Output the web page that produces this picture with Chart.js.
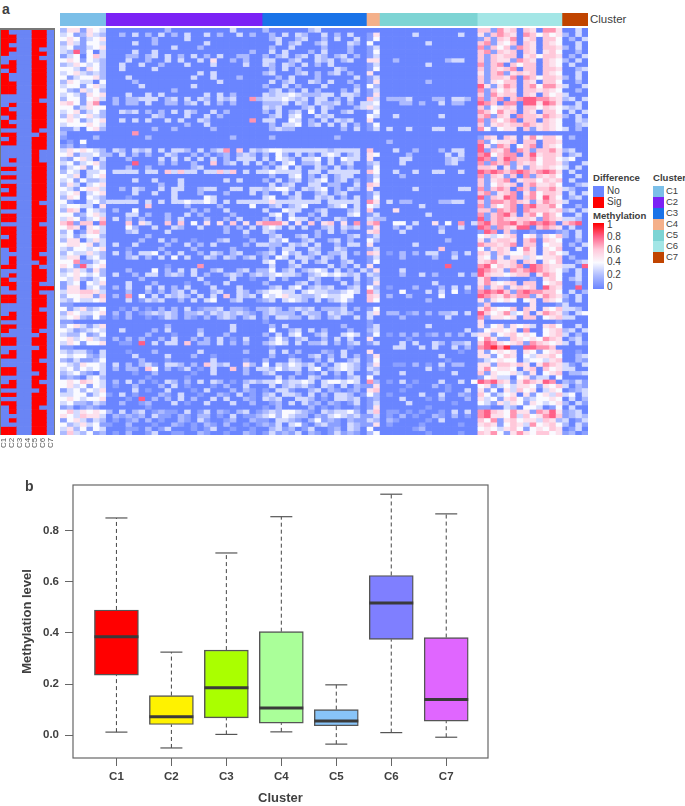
<!DOCTYPE html>
<html><head><meta charset="utf-8">
<script src="https://cdn.jsdelivr.net/npm/chart.js@4"></script>
<style>
html,body{margin:0;padding:0;background:#fff;width:685px;height:806px;overflow:hidden}
body{position:relative;font-family:"Liberation Sans",Arial,sans-serif;color:#404040}
canvas{position:absolute;display:block}
.t{position:absolute;white-space:nowrap;line-height:1}
.s{position:absolute;width:11px;height:10.5px}
</style></head><body>
<div style="position:absolute;left:0;top:28px;width:55px;height:407px;border:1px solid #777;border-top-width:2px;box-sizing:border-box"></div>
<canvas id="sig" width="53" height="405" style="left:1px;top:30px;filter:blur(.35px)"></canvas>
<canvas id="top" width="528" height="13" style="left:60px;top:13px"></canvas>
<canvas id="heat" width="528" height="407" style="left:60px;top:28px;filter:blur(.45px)"></canvas>
<canvas id="box" width="513" height="346" style="left:0;top:460px"></canvas>
<div id="overlay"></div>
<script>
// Cluster names and sizes (columns per cluster in the heatmap)
const categories = ["C1","C2","C3","C4","C5","C6","C7"];
const clusterSizes = [7,24,16,2,15,13,4];
const clusterColors = ["#7bbfe8","#7b22f5","#1a73e8","#f4b08a","#7dd4d4","#a3e6e6","#c04400"];
const legendTicks = ["1","0.8","0.6","0.4","0.2","0"];

// Left "Difference" strip, read row by row (1 = Sig, 0 = No)
const sigC1 = "1100000101"+"0100110010"+"0110110100"+"0110011001"+"0000110110"+"1101101010"+"1010000010"+"1011011000"+"1111101001"+"11111";
const sigC2 = "1101011101"+"0110110011"+"0110010110"+"0110110101"+"1101111110"+"1101101110"+"1010100011"+"1010110100"+"1110011100"+"10110";
const sigC3 = "0".repeat(95);
const sigC4 = "0".repeat(95);
const sigC5 = "1111111111"+"0111011111"+"0110111111"+"1111111111"+"0111111111"+"1111111111"+"1111111111"+"0111111111"+"1111111111"+"11111";
const sigC6 = "1111110111"+"1101111011"+"1111011110"+"1110101110"+"1101111110"+"1111011111"+"1111000111"+"1011111101"+"1111111101"+"01111";
const sigC7 = "0".repeat(34)+"1"+"0".repeat(60);

// Heatmap cells: one digit per cell = methylation x 10,
// groups follow the clusters C1..C7. Row and cluster structure is read, single cells are approximate.
const heatRows = [
"2632412 010200130011002100100210 1312130210131210 24 000000010000100 6574157546645 1201",
"3524143 000110201300010130010010 0231201300120320 40 000001200000000 4543564145465 0130",
"4235341 100200010021010210200101 2130341023110321 15 010000100000100 5651465374564 2031",
"1453132 010120201002103100120021 1033210241210211 32 021000010300000 6471564553652 3013",
"5436553 021212031102102201030112 3424322021343231 13 010201002102010 7855473645786 1232",
"4635454 203023012110301302102301 2324432103233420 36 011010100103030 7865475517685 1230",
"1201210 000000100000000000000000 1020000201010010 15 000000010000000 1100320443014 0300",
"3422132 002001200030100300030020 0120303120210130 13 000030000001000 4315354154345 2031",
"4543445 000108020203020030300210 3230033201033230 12 000300010200020 5341564234454 0302",
"3344134 103010002103001002103010 2303320302033201 42 010000300300210 6413450514536 3403",
"1342435 000030100300010300020210 1033100230210120 56 000100000010030 5140536450354 0123",
"4534143 010020002030100010200300 0302323103203021 15 000010002010000 4513435541546 3021",
"4546543 020302010320203032010232 3342334303443430 72 010301000300304 8786515765870 2131",
"1210342 000000100000100000000000 0030200320010230 40 000000000000000 1453304513304 0000",
"2342103 000010020000010030000200 2300020103020300 13 000300000003000 6154453150456 0223",
"3424343 020220640201301030060203 3242330340234320 32 000000030100000 5745540560645 3300",
"4325443 030202310332020632300520 4032432302034320 25 001102010302200 5516656505765 3103",
"2131124 000002000100000030000100 2000320020300230 14 000000000010000 1345440344356 0021",
"4344213 000030000300020010000000 0200100230203020 15 000000000300000 5514650435564 0023",
"3233103 000100020000003000000200 0303020002103000 50 000000000000100 5145450541456 0010",
"1100000 000000000000000000000000 0100000000000100 00 003300303003020 7897900887760 0000",
"3541445 001108030330602203020200 2343030223020230 13 000303003202230 6875456176545 3031",
"4534532 020202002030020203010300 0242023002030300 50 000010000000000 4751165454765 0230",
"3224124 000000200010003000200000 2030340023003430 14 010202012020203 5514564540456 3020",
"4312343 003000020300002000030000 0400230302000200 23 000000000000030 1455450700456 2303",
"2453135 000000000200000000030000 0203000000002000 13 000000030000000 5145154530564 0030",
"1100000 000000000000000000000000 1000000000000000 10 000000000000000 5000000000001 0000",
"3452141 010200101320210202320230 2033220320230030 30 000200000030000 7155450660456 3300",
"2543345 020201232320223132323210 2322203220323200 35 022012020223030 8645734605765 2034",
"4135234 001020102020301223022102 2320232302223020 14 000000000000000 5754460650546 3320",
"1100000 000000000000000000000000 0000000000002000 00 000000000000000 1600000050001 3000",
"3243345 000301323002030340023001 2303432030234200 64 000000020000000 5154540450654 1030",
"2445516 020704030323203030603230 4345332234334400 65 020020000400000 8765767715765 2030",
"3556653 000200202023030023003202 3443303433223430 73 000400030304010 7878617877664 0302",
"1550342 020300303020300030003000 0230340232300230 42 010002000203030 6156156560865 0080",
"1340435 000300020000100200300000 2000023020003020 15 000000003000000 5754560660456 0020",
"4352134 000002000000003000030010 0302000320020030 13 000000000000000 5701100010564 0230",
"3454342 030020330232030200232023 2343320234343230 32 000200302000302 8655456605764 0030",
"2353152 000200040203030023002302 2402302343030203 15 000300000000000 8765176787654 2030",
"5418345 000000000100007000000000 0300230000302030 50 000000000080000 7846567087655 3308",
"4471134 000000000000000000000000 3400303023002300 14 000000000000000 5675560650546 0023",
"3550342 000230203040300320320230 2043033203203000 13 000200002003000 5415155354556 0200",
"2433532 030203340203002032023001 2304230230223020 65 010202033002030 6516544650564 3000",
"3244345 000100002000020000020000 0203300320032000 13 000000000600000 4156504750546 0030",
"4554513 030030000200302030000203 3220323030020330 50 000003000000000 7665670660455 0203",
"2550353 000002003020010002300020 0324002300230200 42 000000000020000 5156650670654 0020",
"3413442 000000200000000000000100 0230023020000230 13 000000000000000 4534560451546 2030",
"2401563 000230000300000000200300 3200000020302000 56 000300000300000 1870610010001 2030",
"4650543 000420030032003000202030 3430303002303230 15 002030000200300 8717658806765 0300",
"6716607 000605300606040505060506 7775050605605070 67 004403005040703 7867786787870 6780",
"3541346 030202000203000200203000 2030433020032000 32 200000000000000 8167656651765 3320",
"4412453 000330200200302000020000 0340300203000340 13 000000030000000 7167860674764 0030",
"2650432 020040000000020200300000 3004330023000230 60 005000000000000 6617670766656 2303",
"3443305 000000600000200002000040 0230234000234030 43 000000300000000 7164670786674 0020",
"4100342 333330303033433430303333 3533333330333330 75 030220000223300 6177676515765 3000",
"2540432 000100000030000430000000 3400230032302030 14 000000000000000 8165870674864 0230",
"3450345 000030030030002000200030 2003030023023000 13 000000000000000 6715670574665 0303",
"4314553 002032003033002330033033 2344203234020320 50 000003000000330 7167607616675 3200",
"2530345 000000002003000000000000 0302300330220030 65 000000000000000 6146560675564 0023",
"3414223 000030030003000000303000 2030230234023020 14 000000000000000 6156705664656 0300",
"4350345 000000000000000000000000 0200340203023300 13 000200000000000 7165160716564 0030",
"2430334 033330330636330336360303 3433330330333330 64 003003003300300 8787678767875 0300",
"1345142 000200200000023000000000 2034030032030200 14 000000000000000 6650515165654 3030",
"3413452 000080002020020060230303 0203402230302300 23 000300000023000 7176716564665 2003",
"2145303 000200003030303030203330 3043203340304330 50 000330000023200 8716876674664 3400",
"4513342 203020200320020201202320 2042030203430230 54 000020000030300 7846770685665 0230",
"3545432 032032303033203023706032 3443333333233330 60 003002000203300 8165707616675 2300",
"1201000 000000000000000000000000 0000000000000000 00 000000000000000 8517604670654 0000",
"0104000 000000000000000000000000 0000000000000000 00 020000000000000 7145560660665 0000",
"1000020 000000200000000000020000 0200000000020000 00 000000000000000 1650650574664 0200",
"2000000 000070000000000000000000 0000000000000000 00 000000000000000 0000000000000 0000",
"1130452 000000020020000020000000 0232200000002030 13 030030003300330 7414550615654 3020",
"3444543 000000000000200300000000 0203340230303020 14 000000000000000 6156566765654 0023",
"4541345 003030300303003200000070 3300430203032300 50 000000000000000 7164670660654 0032",
"2534532 000000032000300302000000 0230340032300000 43 003000000300000 6716507665765 2030",
"3451342 003230202030320030200000 2030230403002300 14 000000000000000 7647560650664 0303",
"4413544 000000000000000000000000 3230002303200023 53 000000000000000 6145650664654 3230",
"5641570 020220300220230302020000 2223032032230203 34 000220200302200 8760770885875 0030",
"2441453 020223330230303203230072 3334323033020300 63 022230002203320 7167067887765 2303",
"3431545 000300303000000303020000 3233432223303320 15 000000000000000 6175660650645 3000",
"4215342 000000000020000000000000 0230203020002030 13 000000000000000 7164650665654 0020",
"3441453 000003000000030000000000 2003020003000020 42 000000000000000 8515760674775 3003",
"2543304 000020000000000003000000 0302300320300200 15 000000020000000 6154660650664 0020",
"4134452 000300000000030030002000 0020300020000030 13 000000000000000 6166570764665 2030",
"3453232 000000000000003030000000 2300023020230200 50 000000000000000 5167156560654 0030",
"4431542 003000030000000000000000 0203020000032000 14 000000000000000 6165670660665 0023",
"2354342 003003002000300030000300 3203203020300000 13 000000030000000 7167064660654 0300",
"4541432 000300200303003050020200 3300230032302300 55 002000000023300 6165517650654 2030",
"1340463 000220230302030203002200 2023023032023020 13 000000000000000 6165660564665 0203",
"3281403 000030030000000000000020 0303000203000200 14 000000000000000 6716560650564 0020",
"3411345 000000000030002000000000 0200300002000200 13 000000000000000 7164617650665 2030",
"2531443 000030020000000300000000 0030230023000320 40 000000030000000 6715460650654 0030",
"4541345 000000020000300000000000 0230023002030030 14 000000000000000 1616570560664 0203",
"3412532 002030203020300302003020 0203032003020300 15 000003000000300 5167650764645 2030",
"2551543 000000000200000000030000 2000000230000000 00 000000000000000 6617560650775 0030"
];

// Box plot statistics
const whiskerLow  = [0.012,-0.05,0.003,0.013,-0.035,0.01,-0.008];
const boxQ1       = [0.235,0.042,0.068,0.047,0.037,0.375,0.055];
const boxMedian   = [0.385,0.072,0.186,0.106,0.055,0.517,0.14];
const boxQ3       = [0.49,0.155,0.333,0.405,0.1,0.625,0.382];
const whiskerHigh = [0.85,0.325,0.713,0.855,0.197,0.943,0.866];
const boxColors   = ["#ff0000","#fff200","#aaff00","#aaff99","#88c4f8","#7f7fff","#e066ff"];
const yTickValues = [0,0.2,0.4,0.6,0.8];

Chart.defaults.animation = false;
Chart.defaults.responsive = false;
Chart.defaults.font.family = '"Liberation Sans",Arial,sans-serif';
Chart.defaults.plugins.legend.display = false;
Chart.defaults.plugins.tooltip.enabled = false;
Chart.defaults.events = [];

const STOPS=[[0,[106,133,255]],[0.2,[172,186,255]],[0.4,[250,250,255]],[0.6,[255,200,218]],[0.8,[255,95,135]],[1,[255,0,0]]];
function heatColor(v){
  let i=0; while(i<STOPS.length-2 && v>STOPS[i+1][0]) i++;
  const [p,a]=STOPS[i],[q,b]=STOPS[i+1],t=(v-p)/(q-p);
  return `rgb(${a.map((c,k)=>Math.round(c+(b[k]-c)*t)).join(",")})`;
}
function stackedCells(id,labels,datasets,xMax){
  return new Chart(document.getElementById(id),{type:"bar",data:{labels,datasets},options:{
    indexAxis:"y",maintainAspectRatio:false,layout:{padding:0},
    datasets:{bar:{categoryPercentage:1,barPercentage:1,borderWidth:0}},
    scales:{x:{type:"linear",stacked:true,display:false,min:0,max:xMax,offset:false},
            y:{type:"category",stacked:true,display:false,reverse:true}}
  }});
}

// Difference strip
const sigCols=[sigC1,sigC2,sigC3,sigC4,sigC5,sigC6,sigC7];
const rowLabels=heatRows.map((_,i)=>"r"+(i+1));
stackedCells("sig",rowLabels,sigCols.map((col,c)=>({
  label:categories[c],data:rowLabels.map(()=>1),
  backgroundColor:rowLabels.map((_,r)=>col[r]==="1"?"#ff0000":"#6a85f5")
})),7);

// Cluster bar
stackedCells("top",["Cluster"],categories.map((c,i)=>({
  label:c,data:[clusterSizes[i]],backgroundColor:clusterColors[i]
})),clusterSizes.reduce((a,b)=>a+b,0));

// Heatmap
const parsedRows=heatRows.map(r=>{
  const segs=r.split(" ");
  return clusterSizes.map((n,i)=>(segs[i]||"").padEnd(n,"0").slice(0,n)).join("");
});
const nCols=clusterSizes.reduce((a,b)=>a+b,0);
const heatDatasets=[];
for(let c=0;c<nCols;c++){
  heatDatasets.push({label:"col"+c,data:parsedRows.map(()=>1),
    backgroundColor:parsedRows.map(r=>heatColor(+r[c]/10))});
}
stackedCells("heat",rowLabels,heatDatasets,nCols);

// Box plot
const xs=categories.map((_,i)=>i+1);
const boxDatasets=[];
xs.forEach((x,i)=>{
  [[whiskerLow[i],boxQ1[i]],[boxQ3[i],whiskerHigh[i]]].forEach(p=>{
    boxDatasets.push({type:"scatter",showLine:true,order:3,data:p.map(y=>({x,y})),
      borderColor:"#444",borderWidth:1,borderDash:[4,3],pointRadius:0});
  });
});
boxDatasets.push({type:"bar",order:2,barThickness:44,data:xs.map((x,i)=>({x,y:[boxQ1[i],boxQ3[i]]})),
  backgroundColor:boxColors,borderColor:"#555",borderWidth:1.4,borderSkipped:false});
boxDatasets.push({type:"scatter",order:1,data:xs.flatMap((x,i)=>[{x,y:whiskerLow[i]},{x,y:whiskerHigh[i]}]),
  pointStyle:"line",pointRadius:11,pointBorderColor:"#555",pointBorderWidth:1.2});
boxDatasets.push({type:"scatter",order:0,data:xs.map((x,i)=>({x,y:boxMedian[i]})),
  pointStyle:"line",pointRadius:22,pointBorderColor:"#3a3a3a",pointBorderWidth:3});

const frame={id:"frame",afterDatasetsDraw(ch){const a=ch.chartArea,g=ch.ctx;g.save();g.strokeStyle="#666";g.lineWidth=1.2;
  g.strokeRect(a.left,a.top,a.right-a.left,a.bottom-a.top);g.restore();}};
const tickFont={size:11.5,weight:"bold"};
new Chart(document.getElementById("box"),{type:"bar",data:{datasets:boxDatasets},plugins:[frame],options:{
  maintainAspectRatio:false,layout:{padding:{top:23,right:0,left:0,bottom:0}},
  scales:{
    x:{type:"linear",min:0.21,max:7.76,offset:false,
      afterBuildTicks(a){a.ticks=xs.map(v=>({value:v}));},
      afterFit(a){a.height=48;a.paddingLeft=0;a.paddingRight=0;},
      grid:{offset:false,drawOnChartArea:false,tickLength:8,color:"#666",lineWidth:1},
      border:{display:false},
      ticks:{autoSkip:false,maxRotation:0,padding:4,color:"#404040",font:tickFont,callback:v=>categories[v-1]},
      title:{display:true,text:"Cluster",color:"#404040",font:{size:13,weight:"bold"},padding:{top:1,bottom:0}}},
    y:{type:"linear",min:-0.0893,max:0.979,
      afterBuildTicks(a){a.ticks=yTickValues.map(v=>({value:v}));},
      afterFit(a){a.width=73;a.paddingTop=0;a.paddingBottom=0;},
      grid:{drawOnChartArea:false,tickLength:8,color:"#666",lineWidth:1},
      border:{display:false},
      ticks:{padding:6,color:"#404040",font:tickFont,callback:v=>v.toFixed(1)},
      title:{display:true,text:"Methylation level",color:"#404040",font:{size:13,weight:"bold"},padding:{top:20,bottom:0}}}
  }
}});

// Text and legends
const ov=document.getElementById("overlay");
function txt(s,x,y,size,bold,extra){
  const d=document.createElement("div");d.className="t";d.textContent=s;
  d.style.cssText=`left:${x}px;top:${y-size/2}px;font-size:${size}px;${bold?"font-weight:bold;":""}${extra||""}`;
  ov.appendChild(d);return d;
}
function swatch(c,x,y){const d=document.createElement("div");d.className="s";
  d.style.cssText=`left:${x}px;top:${y}px;background:${c};`;ov.appendChild(d);}
txt("a",2,9,14,true);
txt("b",25,486,14,true);
txt("Cluster",590,19.5,11.5,false);
txt("Difference",593,178,9.6,true);
swatch("#6a85ff",593,186);swatch("#ff0000",593,197);
txt("No",607,191,10,false);txt("Sig",607,202,10,false);
txt("Methylation",593,216,9.6,true);
const bar=document.createElement("div");
bar.style.cssText=`position:absolute;left:593px;top:223px;width:11px;height:66px;background:linear-gradient(to top,${STOPS.map(([p,c])=>`rgb(${c.join(",")}) ${p*100}%`).join(",")})`;
ov.appendChild(bar);
legendTicks.forEach((s,i)=>txt(s,607,225+i*12.4,10,false));
txt("Cluster",653,178,9.6,true);
categories.forEach((c,i)=>{swatch(clusterColors[i],653,186+i*11);txt(c,666,191+i*11,9.5,false);});
categories.forEach((c,i)=>{
  txt(c,4.4+i*7.7,443,8,false,"transform:translate(-50%,0) rotate(-90deg);transform-origin:50% 50%;color:#555;");
});
</script>
</body></html>
